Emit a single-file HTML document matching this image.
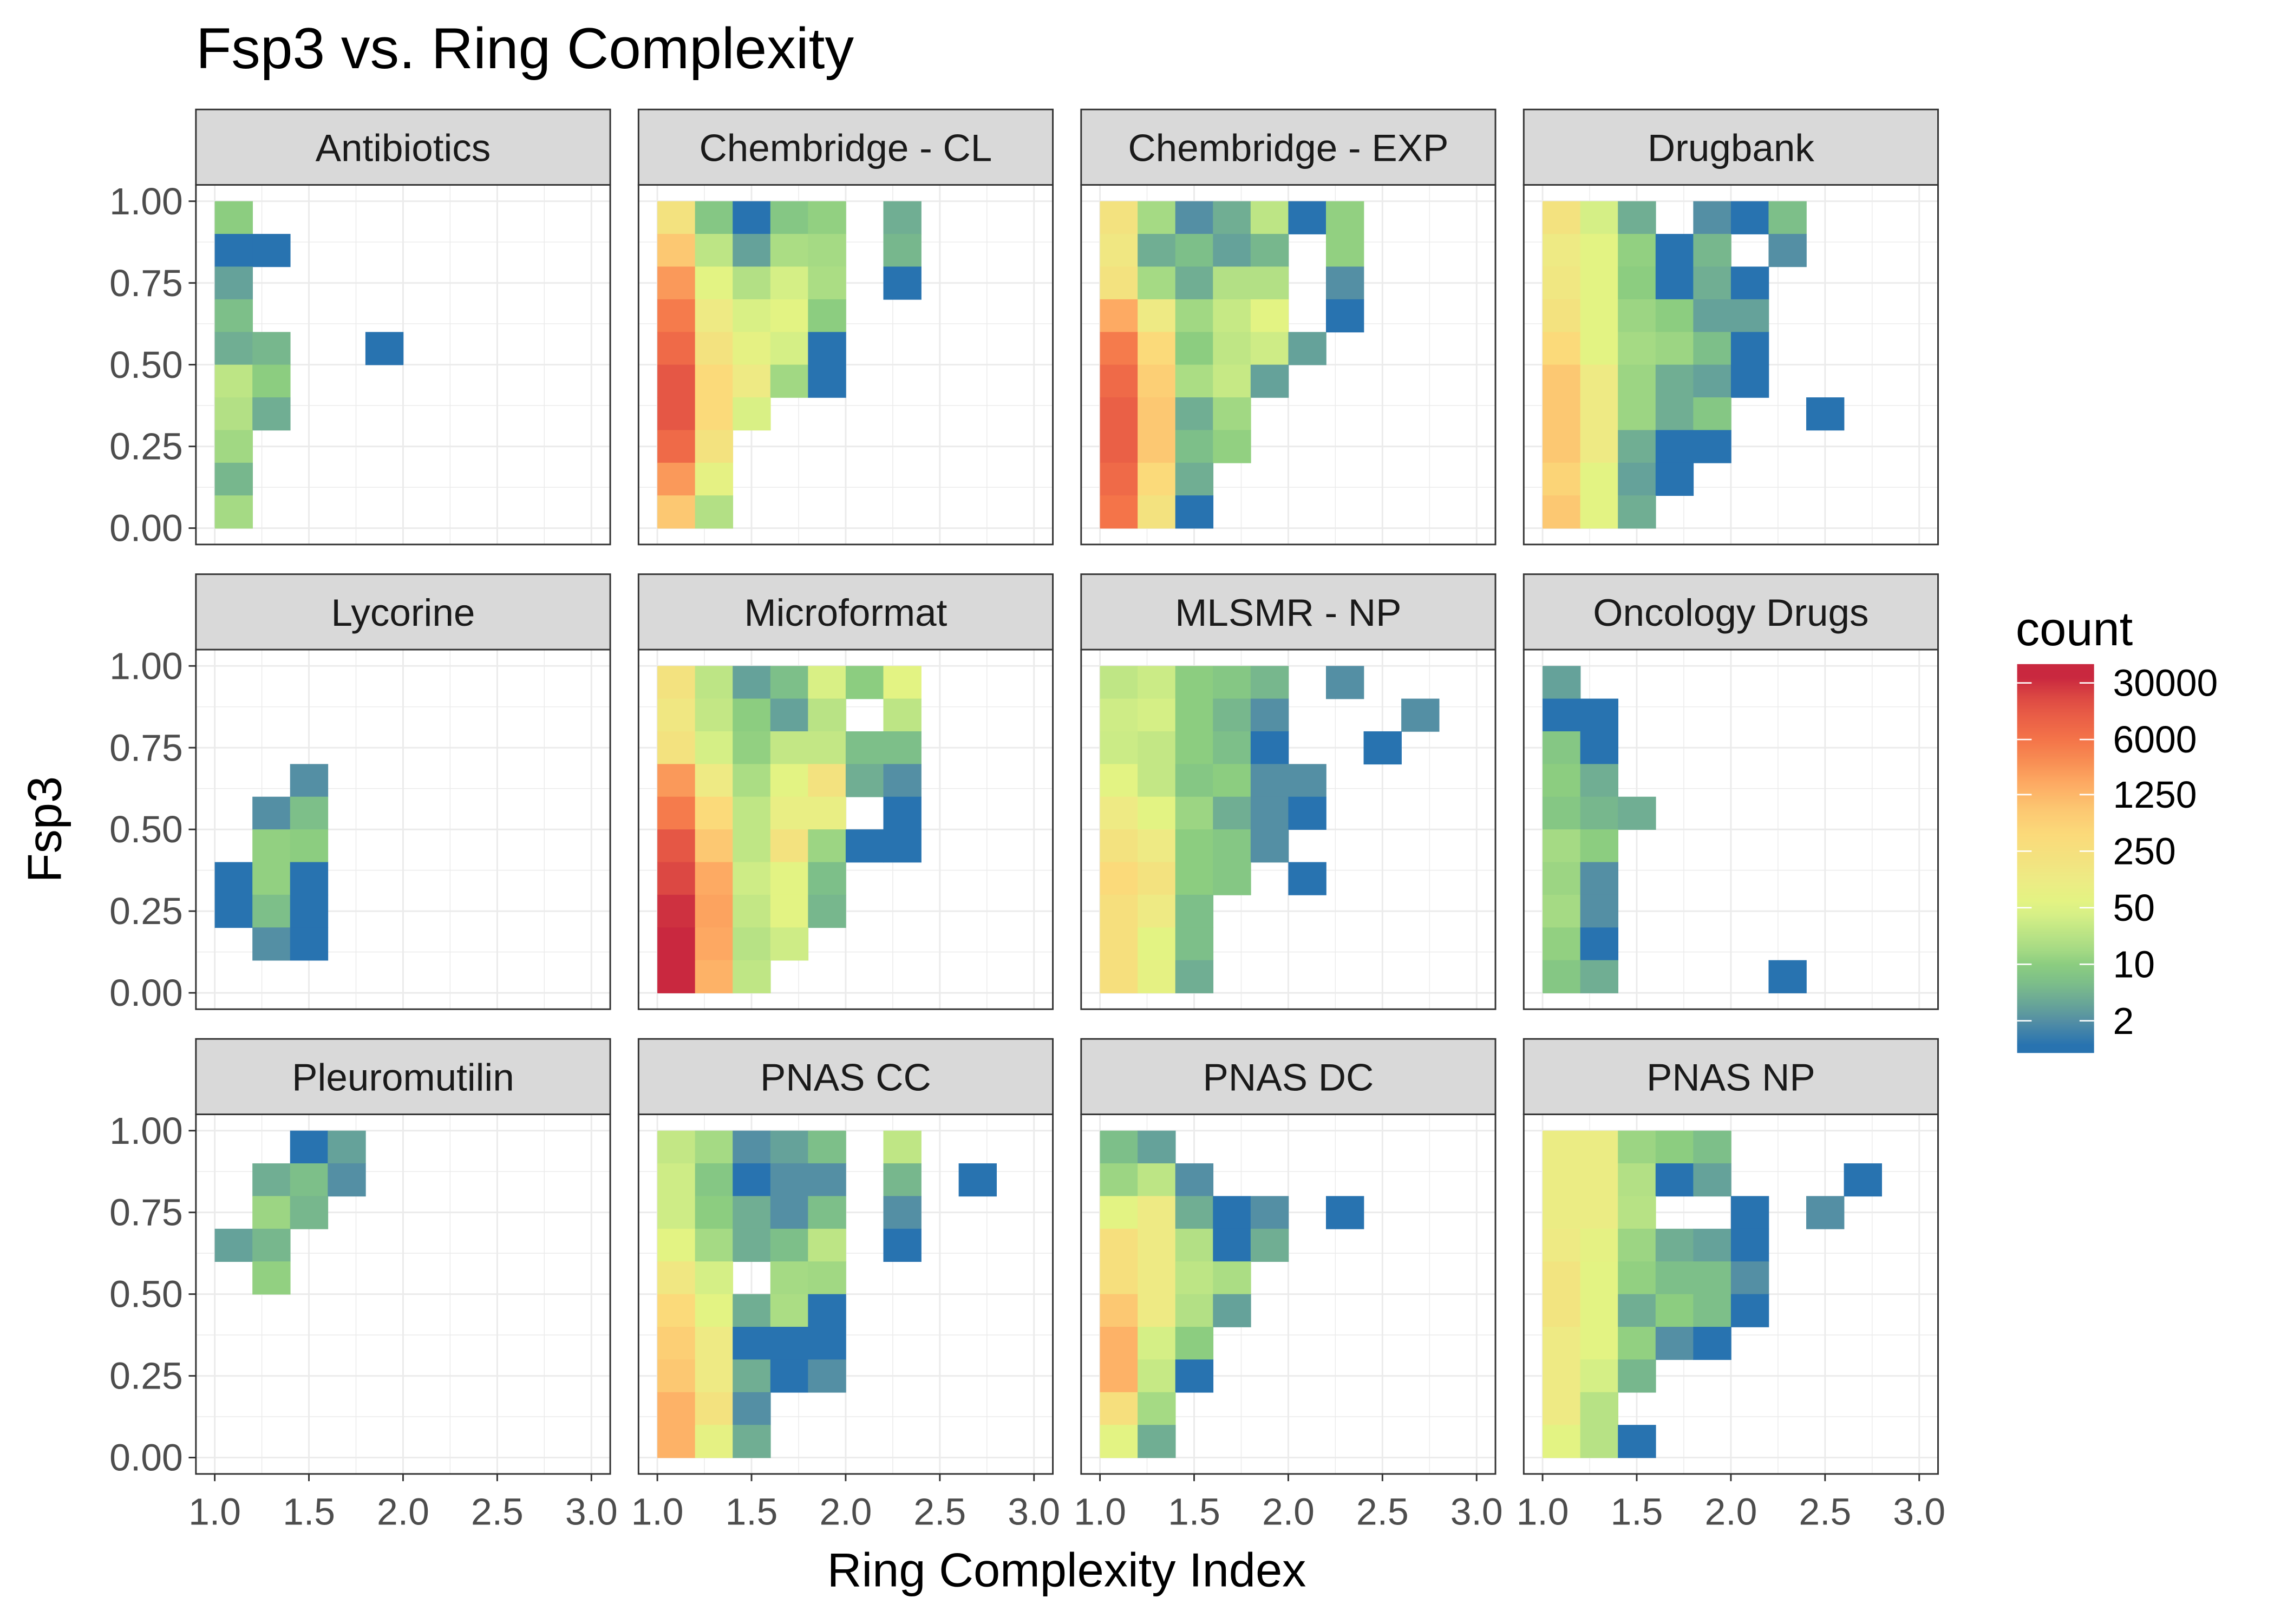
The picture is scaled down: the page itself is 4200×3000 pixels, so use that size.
<!DOCTYPE html>
<html><head><meta charset="utf-8"><style>
html,body{margin:0;padding:0;background:#fff;}
svg{display:block;font-family:"Liberation Sans",Arial,sans-serif;}
</style></head><body>
<svg id="chart" xmlns="http://www.w3.org/2000/svg" width="4200" height="3000" viewBox="0 0 1567 1120" preserveAspectRatio="none">
<rect x="0" y="0" width="1567" height="1120" fill="#fff"/>
<text x="135" y="47" font-size="40" fill="#000">Fsp3 vs. Ring Complexity</text>
<text x="735" y="1094" font-size="33" fill="#000" text-anchor="middle">Ring Complexity Index</text>
<text transform="translate(42,572) rotate(-90)" font-size="33" fill="#000" text-anchor="middle">Fsp3</text>
<g id="panels"></g>
<g id="legend"></g>
</svg>
<script>
// ---- data ----
const panelNames = ["Antibiotics","Chembridge - CL","Chembridge - EXP","Drugbank","Lycorine","Microformat","MLSMR - NP","Oncology Drugs","Pleuromutilin","PNAS CC","PNAS DC","PNAS NP"];
const xBinStarts = [1.0,1.2,1.4,1.6,1.8,2.0,2.2,2.4,2.6,2.8];
const yBinStarts = [0.9,0.8,0.7,0.6,0.5,0.4,0.3,0.2,0.1,0.0];
const xTicks = [1.0,1.5,2.0,2.5,3.0];
const xTickLabels = ["1.0","1.5","2.0","2.5","3.0"];
const yTicks = [0,0.25,0.5,0.75,1.0];
const yTickLabels = ["0.00","0.25","0.50","0.75","1.00"];
const legendBreaks = [2,10,50,250,1250,6000,30000];
const legendLabels = ["2","10","50","250","1250","6000","30000"];
// counts per panel: rows top (0.9-1.0) to bottom (0.0-0.1), columns x bins 1.0..2.8
const countsAntibiotics = [
[10,0,0,0,0,0,0,0,0,0],[1,1,0,0,0,0,0,0,0,0],[3,0,0,0,0,0,0,0,0,0],[6,0,0,0,0,0,0,0,0,0],
[4,5,0,0,1,0,0,0,0,0],[25,10,0,0,0,0,0,0,0,0],[20,4,0,0,0,0,0,0,0,0],[14,0,0,0,0,0,0,0,0,0],
[5,0,0,0,0,0,0,0,0,0],[15,0,0,0,0,0,0,0,0,0]];
const countsChemCL = [
[200,8,1,8,11,0,4,0,0,0],[800,25,3,17,15,0,5,0,0,0],[2500,60,20,40,17,0,1,0,0,0],[5000,120,45,60,10,0,0,0,0,0],
[8000,200,70,40,1,0,0,0,0,0],[14000,400,120,14,1,0,0,0,0,0],[14000,400,45,0,0,0,0,0,0,0],[8000,200,0,0,0,0,0,0,0,0],
[2500,70,0,0,0,0,0,0,0,0],[800,20,0,0,0,0,0,0,0,0]];
const countsChemEXP = [
[200,15,2,4,25,1,11,0,0,0],[150,4,6,3,5,0,11,0,0,0],[200,15,4,20,20,0,2,0,0,0],[1700,120,14,30,60,0,1,0,0,0],
[5000,400,10,26,35,3,0,0,0,0],[8000,600,17,30,3,0,0,0,0,0],[11000,800,4,14,0,0,0,0,0,0],[11000,800,6,11,0,0,0,0,0,0],
[8000,400,4,0,0,0,0,0,0,0],[6000,200,1,0,0,0,0,0,0,0]];
const countsDrugbank = [
[200,40,4,0,2,1,6,0,0,0],[120,60,11,1,5,0,2,0,0,0],[150,60,10,1,4,1,0,0,0,0],[200,60,13,10,3,3,0,0,0,0],
[400,60,15,13,6,1,0,0,0,0],[800,120,13,4,3,1,0,0,0,0],[800,120,13,4,8,0,0,1,0,0],[800,120,4,1,1,0,0,0,0,0],
[500,60,3,1,0,0,0,0,0,0],[800,60,4,0,0,0,0,0,0,0]];
const countsLycorine = [
[0,0,0,0,0,0,0,0,0,0],[0,0,0,0,0,0,0,0,0,0],[0,0,0,0,0,0,0,0,0,0],[0,0,2,0,0,0,0,0,0,0],
[0,2,6,0,0,0,0,0,0,0],[0,11,10,0,0,0,0,0,0,0],[1,11,1,0,0,0,0,0,0,0],[1,6,1,0,0,0,0,0,0,0],
[0,2,1,0,0,0,0,0,0,0],[0,0,0,0,0,0,0,0,0,0]];
const countsMicroformat = [
[200,25,3,6,45,10,60,0,0,0],[150,28,10,3,23,0,25,0,0,0],[200,40,11,28,28,6,6,0,0,0],[2500,120,17,60,200,4,2,0,0,0],
[5000,400,26,90,90,0,1,0,0,0],[14000,800,26,200,13,1,1,0,0,0],[20000,1700,35,60,6,0,0,0,0,0],[30000,2000,28,60,5,0,0,0,0,0],
[40000,1800,22,35,0,0,0,0,0,0],[35000,1400,26,0,0,0,0,0,0,0]];
const countsMLSMR = [
[26,33,10,8,5,0,2,0,0,0],[35,40,10,5,2,0,0,0,2,0],[33,28,10,6,1,0,0,1,0,0],[60,28,8,10,2,2,0,0,0,0],
[120,60,13,4,2,1,0,0,0,0],[200,120,10,8,2,0,0,0,0,0],[400,200,10,8,0,1,0,0,0,0],[250,120,6,0,0,0,0,0,0,0],
[250,60,6,0,0,0,0,0,0,0],[250,70,4,0,0,0,0,0,0,0]];
const countsOncology = [
[3,0,0,0,0,0,0,0,0,0],[1,1,0,0,0,0,0,0,0,0],[8,1,0,0,0,0,0,0,0,0],[10,4,0,0,0,0,0,0,0,0],
[8,5,4,0,0,0,0,0,0,0],[15,10,0,0,0,0,0,0,0,0],[13,2,0,0,0,0,0,0,0,0],[15,2,0,0,0,0,0,0,0,0],
[11,1,0,0,0,0,0,0,0,0],[8,4,0,0,0,0,1,0,0,0]];
const countsPleuromutilin = [
[0,0,1,3,0,0,0,0,0,0],[0,4,6,2,0,0,0,0,0,0],[0,13,5,0,0,0,0,0,0,0],[3,5,0,0,0,0,0,0,0,0],
[0,11,0,0,0,0,0,0,0,0],[0,0,0,0,0,0,0,0,0,0],[0,0,0,0,0,0,0,0,0,0],[0,0,0,0,0,0,0,0,0,0],
[0,0,0,0,0,0,0,0,0,0],[0,0,0,0,0,0,0,0,0,0]];
const countsPnasCC = [
[28,15,2,3,6,0,26,0,0,0],[35,8,1,2,2,0,5,0,1,0],[35,10,4,2,6,0,2,0,0,0],[60,15,4,6,25,0,1,0,0,0],
[150,40,0,15,14,0,0,0,0,0],[400,60,4,17,1,0,0,0,0,0],[600,120,1,1,1,0,0,0,0,0],[800,120,4,1,2,0,0,0,0,0],
[1400,200,2,0,0,0,0,0,0,0],[1400,70,4,0,0,0,0,0,0,0]];
const countsPnasDC = [
[6,3,0,0,0,0,0,0,0,0],[13,25,2,0,0,0,0,0,0,0],[60,120,4,1,2,0,1,0,0,0],[250,120,20,1,4,0,0,0,0,0],
[250,120,25,17,0,0,0,0,0,0],[800,120,20,3,0,0,0,0,0,0],[1400,40,10,0,0,0,0,0,0,0],[1400,30,1,0,0,0,0,0,0,0],
[250,15,0,0,0,0,0,0,0,0],[60,4,0,0,0,0,0,0,0,0]];
const countsPnasNP = [
[100,100,13,10,6,0,0,0,0,0],[100,100,20,1,3,0,0,0,1,0],[100,100,22,0,0,1,0,2,0,0],[120,70,13,4,3,1,0,0,0,0],
[180,60,11,6,6,2,0,0,0,0],[180,60,4,10,6,1,0,0,0,0],[120,60,11,2,1,0,0,0,0,0],[120,40,5,0,0,0,0,0,0,0],
[120,22,0,0,0,0,0,0,0,0],[60,22,1,0,0,0,0,0,0,0]];
const panelCounts = [countsAntibiotics,countsChemCL,countsChemEXP,countsDrugbank,countsLycorine,countsMicroformat,countsMLSMR,countsOncology,countsPleuromutilin,countsPnasCC,countsPnasDC,countsPnasNP];

// ---- colour scale (log count) ----
const palCounts = [1,2,3,4,6,10,15,25,40,60,120,200,400,800,1800,3500,6000,12000,20000,35000];
const palColors = ["#2873b0","#548fa4","#65a29a","#70ae93","#7dbf89","#8ccd80","#a5da84","#bde585","#d5ef86","#e3f383","#eeea84","#f3e27f","#fbda7a","#fcc872","#fda862","#f78a52","#f47449","#e95d46","#dc4843","#c9283f"];
function hex2rgb(h){return [parseInt(h.substr(1,2),16),parseInt(h.substr(3,2),16),parseInt(h.substr(5,2),16)];}
function colorFor(c){
  const l=Math.log(c);
  if(l<=Math.log(palCounts[0])) return palColors[0];
  for(let i=1;i<palCounts.length;i++){
    const l1=Math.log(palCounts[i]);
    if(l<=l1){
      const l0=Math.log(palCounts[i-1]);const t=(l-l0)/(l1-l0);
      const a=hex2rgb(palColors[i-1]),b=hex2rgb(palColors[i]);
      return "rgb("+a.map((v,k)=>Math.round(v+(b[k]-v)*t)).join(",")+")";
    }
  }
  return palColors[palColors.length-1];
}

// ---- layout ----
const NS="http://www.w3.org/2000/svg";
function mk(tag,attrs,parent){const e=document.createElementNS(NS,tag);for(const k in attrs)e.setAttribute(k,attrs[k]);parent.appendChild(e);return e;}
const colLeft=[135,440,745,1050];
const rowTop=[127.5,448,768.5];
const PW=285.5, PH=248;
const xMin=0.9,xMax=3.1,yMin=-0.05,yMax=1.05;
const panelsG=document.getElementById('panels');

panelNames.forEach((name,p)=>{
  const col=p%4,row=Math.floor(p/4);
  const L=colLeft[col],T=rowTop[row];
  const sx=v=>L+(v-xMin)/(xMax-xMin)*PW;
  const sy=v=>T+(yMax-v)/(yMax-yMin)*PH;
  const g=mk('g',{},panelsG);
  
  
  mk('rect',{x:L,y:T,width:PW,height:PH,fill:'#fff'},g);
  [1.25,1.75,2.25,2.75].forEach(v=>{const gl=mk('line',{x1:sx(v),x2:sx(v),y1:T,y2:T+PH,stroke:'#ebebeb','stroke-width':0.55},g);});
  [0.125,0.375,0.625,0.875].forEach(v=>{const gl=mk('line',{x1:L,x2:L+PW,y1:sy(v),y2:sy(v),stroke:'#ebebeb','stroke-width':0.55},g);});
  xTicks.forEach(v=>{const gl=mk('line',{x1:sx(v),x2:sx(v),y1:T,y2:T+PH,stroke:'#ebebeb','stroke-width':1.1},g);});
  yTicks.forEach(v=>{const gl=mk('line',{x1:L,x2:L+PW,y1:sy(v),y2:sy(v),stroke:'#ebebeb','stroke-width':1.1},g);});
  const data=panelCounts[p];
  data.forEach((r,ri)=>r.forEach((c,ci)=>{
    if(!c) return;
    const x0=sx(xBinStarts[ci]),x1=sx(xBinStarts[ci]+0.2),y0=sy(yBinStarts[ri]+0.1),y1=sy(yBinStarts[ri]);
    const t=mk('rect',{x:x0,y:y0,width:x1-x0+0.3,height:y1-y0+0.3,fill:colorFor(c)},g);
    
    
  }));
  const br=mk('rect',{x:L,y:T,width:PW,height:PH,fill:'none',stroke:'#333','stroke-width':1.1},g);
  
  
  const st=mk('rect',{x:L,y:T-52,width:PW,height:52,fill:'#d9d9d9',stroke:'#333','stroke-width':1.1},g);
  
  
  const stt=mk('text',{x:L+PW/2,y:T-26+9.5,'font-size':26.5,'text-anchor':'middle',fill:'#1a1a1a'},g);
  stt.textContent=name;
  
  
  if(col===0){
    yTicks.forEach((v,i)=>{
      mk('line',{x1:L-5,x2:L,y1:sy(v),y2:sy(v),stroke:'#333','stroke-width':1.1},g);
      const tl=mk('text',{x:L-9,y:sy(v)+9,'font-size':26,'text-anchor':'end',fill:'#4d4d4d'},g);
      tl.textContent=yTickLabels[i];
      
      
    });
  }
  if(row===2){
    xTicks.forEach((v,i)=>{
      mk('line',{x1:sx(v),x2:sx(v),y1:T+PH,y2:T+PH+5,stroke:'#333','stroke-width':1.1},g);
      const tl=mk('text',{x:sx(v),y:T+PH+35,'font-size':26,'text-anchor':'middle',fill:'#4d4d4d'},g);
      tl.textContent=xTickLabels[i];
      
      
    });
  }
});

// ---- legend ----
const lg=document.getElementById('legend');


const LX=1390,LW=53,LT=458,LB=726;
const ly=c=>704-39*Math.log(c/2)/Math.log(5);
const lt=mk('text',{x:1389,y:445,'font-size':33,fill:'#000'},lg);
lt.textContent='count';


for(let y=LT;y<LB;y+=1){
  const c=2*Math.pow(5,(704-(y+0.5))/39);
  const s=mk('rect',{x:LX,y:y,width:LW,height:1.2,fill:colorFor(c)},lg);
  
  
}
legendBreaks.forEach((b,i)=>{
  const y=ly(b);
  mk('line',{x1:LX,x2:LX+10,y1:y,y2:y,stroke:'#fff','stroke-width':1},lg);
  mk('line',{x1:LX+LW-10,x2:LX+LW,y1:y,y2:y,stroke:'#fff','stroke-width':1},lg);
  const t=mk('text',{x:LX+LW+13,y:y+9,'font-size':26,fill:'#000'},lg);
  t.textContent=legendLabels[i];
  
  
});
</script>
</body></html>
